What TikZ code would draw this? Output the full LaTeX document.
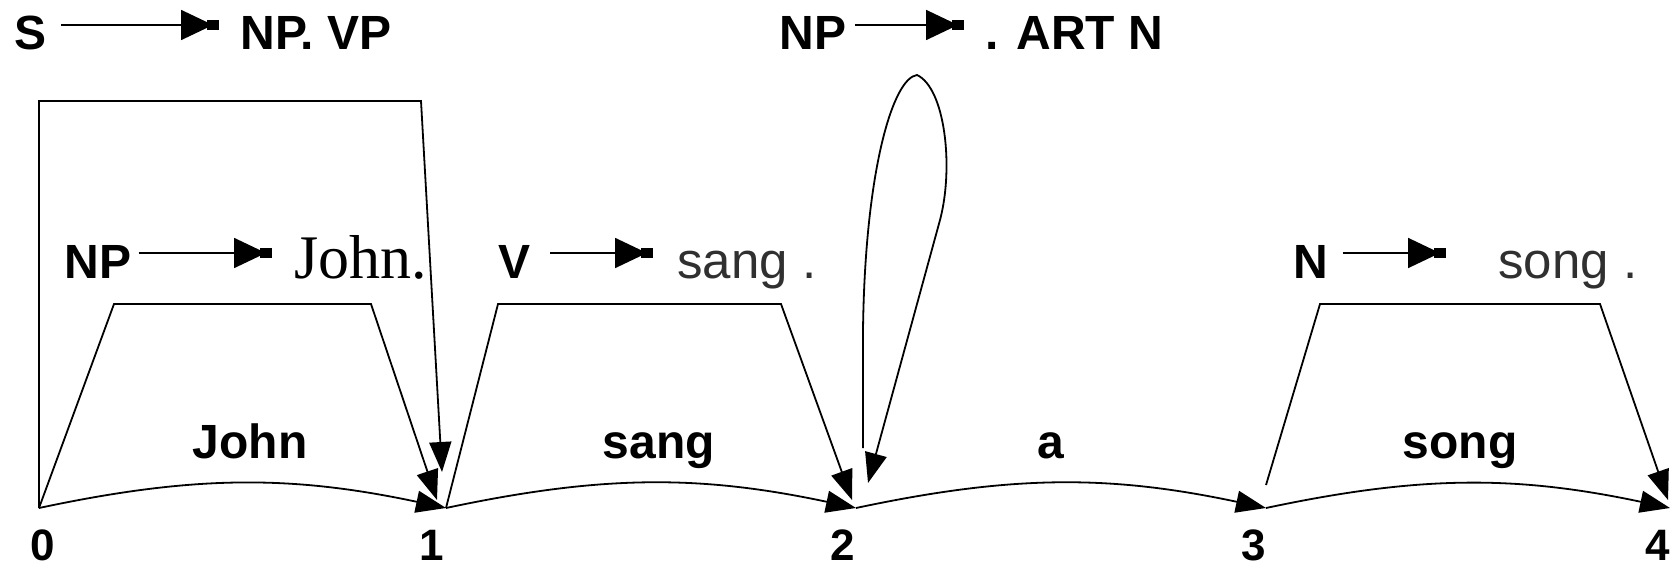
\documentclass[tikz,border=0pt]{standalone}
\usepackage{fontspec}
\setmainfont{Liberation Sans}
\newfontfamily\chserif{Liberation Serif}
\usetikzlibrary{arrows.meta}
\definecolor{chInk}{HTML}{000000}
\definecolor{chSoft}{HTML}{303030}
\tikzset{
  ch edge/.style={draw=chInk, line width=0.9pt, -{Triangle[length=15pt,width=11pt]}},
  ch rule arrow/.style={draw=chInk, line width=0.9pt, -{Triangle[length=16pt,width=15pt,sep=-3pt]Rectangle[length=6pt,width=5pt]}},
  ch label/.style={font=\fontsize{24}{28}\selectfont\bfseries, text=chInk, inner sep=0pt},
  ch number/.style={font=\fontsize{22}{26}\selectfont\bfseries, text=chInk, inner sep=0pt},
  ch word/.style={font=\fontsize{25.5}{30}\selectfont, text=chSoft, inner sep=0pt},
  ch serif word/.style={font=\fontsize{31}{34}\selectfont\chserif, text=chInk, inner sep=0pt},
}

\begin{document}
\begin{tikzpicture}[x=0.5pt, y=-0.5pt]
  \useasboundingbox (0,0) rectangle (1673,567);
  % ----- chart vertices -----
  \coordinate (v0) at (39,508);
  \coordinate (v1) at (446,508);
  \coordinate (v2) at (856,508);
  \coordinate (v3) at (1266,508);
  \coordinate (v4) at (1670,508);
  \node[ch number, anchor=base] (n0) at (43,560) {0};
  \node[ch number, anchor=base] (n1) at (432,560) {1};
  \node[ch number, anchor=base] (n2) at (843,560) {2};
  \node[ch number, anchor=base] (n3) at (1254,560) {3};
  \node[ch number, anchor=base] (n4) at (1658,560) {4};
  % ----- lexical edges -----
  \draw[ch edge] (v0) to[bend left=12] (v1);
  \draw[ch edge] (v1) to[bend left=12] (v2);
  \draw[ch edge] (v2) to[bend left=12] (v3);
  \draw[ch edge] (v3) to[bend left=12] (v4);
  \node[ch label, anchor=base] (wJohn) at (250,458) {John};
  \node[ch label, anchor=base] (wSang) at (659,458) {sang};
  \node[ch label, anchor=base] (wA) at (1051,458) {a};
  \node[ch label, anchor=base] (wSong) at (1460,458) {song};
  % ----- active and complete arcs -----
  \draw[ch edge] (v0) |- (421,101) -- ([shift={(-4,-36)}]v1);
  \draw[ch edge] (v0) -- (114,304) -- (371,304) -- ([shift={(-9,-8)}]v1);
  \draw[ch edge] (v1) -- (498,304) -- (781,304) -- ([shift={(-4,-8)}]v2);
  \draw[ch edge] ([shift={(0,-23)}]v3) -- (1320,304) -- (1600,304) -- ([shift={(-2,-8)}]v4);
  \draw[ch edge] ([shift={(7,-60)}]v2) -- (863,330)
    .. controls (865,170) and (893,78) .. (917,75)
    .. controls (945,88) and (954,167) .. (940,220) -- ([shift={(12,-25)}]v2);
  % ----- rules: S and NP at the top -----
  \node[ch label, anchor=base] (sL) at (31,50) {S};
  \node[ch label, anchor=base west] (sR) at (240,50) {NP. VP};
  \draw[ch rule arrow, shorten <=7pt, shorten >=10.5pt] ([yshift=12.5pt]sL.base east) -- ([yshift=12.5pt]sR.base west);
  \node[ch label, anchor=base] (npTopL) at (813,50) {NP};
  \node[ch label, anchor=base west] (npTopR) at (985,50) {. ART N};
  \draw[ch rule arrow, shorten <=4pt, shorten >=10.5pt] ([yshift=12.5pt]npTopL.base east) -- ([yshift=12.5pt]npTopR.base west);
  % ----- rules: lexical categories -----
  \node[ch label, anchor=base] (npL) at (98,278) {NP};
  \node[ch serif word, anchor=base west] (npR) at (294,278) {John.};
  \draw[ch rule arrow, shorten <=3.5pt, shorten >=11pt] ([yshift=12.5pt]npL.base east) -- ([yshift=12.5pt]npR.base west);
  \node[ch label, anchor=base] (vL) at (514,278) {V};
  \node[ch word, anchor=base west] (vR) at (677,278) {sang .};
  \draw[ch rule arrow, shorten <=10pt, shorten >=12pt] ([yshift=12.5pt]vL.base east) -- ([yshift=12.5pt]vR.base west);
  \node[ch label, anchor=base] (nL) at (1311,278) {N};
  \node[ch word, anchor=base west] (nR) at (1498,278) {song .};
  \draw[ch rule arrow, shorten <=7pt, shorten >=26pt] ([yshift=12.5pt]nL.base east) -- ([yshift=12.5pt]nR.base west);
\end{tikzpicture}
\end{document}
